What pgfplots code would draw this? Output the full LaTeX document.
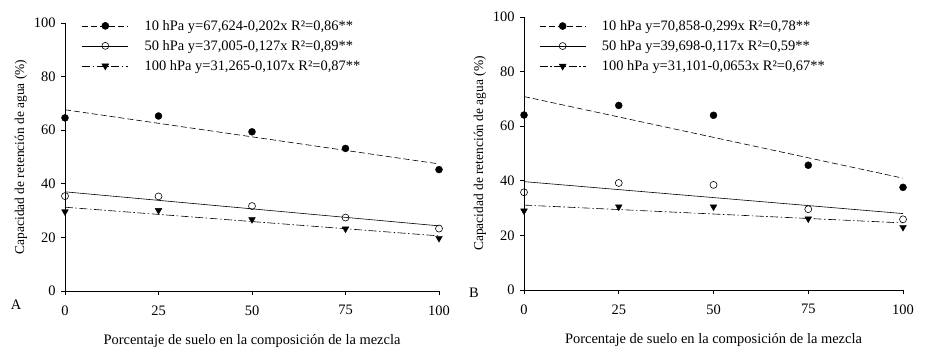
\documentclass[border=0pt]{standalone}
\usepackage{pgfplots}
\pgfplotsset{compat=1.18}
\usepackage{fontspec}
\setmainfont{Liberation Serif}
\begin{document}
\begin{tikzpicture}[x=1bp,y=1bp]
\path[use as bounding box] (0,0) rectangle (927,355);
\pgfplotsset{
  myax/.style={
    scale only axis,
    anchor=origin,
    xmin=0, xmax=100, ymin=0, ymax=100,
    axis x line*=bottom, axis y line*=left,
    axis line style={-, line width=0.8bp},
    xtick={0,25,50,75,100}, ytick={0,20,40,60,80,100},
    tick align=outside, major tick length=4bp,
    tick style={line width=0.8bp, black},
    /pgf/number format/assume math mode=true,
    ticklabel style={font=\fontsize{14.5}{16}\selectfont},
    xticklabel style={yshift=-7bp},
    yticklabel style={xshift=-2bp},
    xlabel style={font=\fontsize{14.5}{16}\selectfont, yshift=-12bp},
    ylabel style={font=\fontsize{13.5}{15}\selectfont, yshift=0bp},
    xlabel={Porcentaje de suelo en la composición de la mezcla},
    ylabel={Capacidad de retención de agua (\%)},
    clip=false,
    legend cell align=left,
    legend style={draw=none, fill=none, font=\fontsize{14.5}{16}\selectfont,
      anchor=north west, row sep=4.5bp, column sep=14bp, inner sep=0pt},
    legend image code/.code={\draw[mark repeat=2,mark phase=2,##1] plot coordinates {(0bp,0bp) (23bp,0bp) (46bp,0bp)};},
  },
  d10/.style={black, line width=0.6bp, dash pattern=on 6bp off 3bp},
  d50/.style={black, line width=0.6bp},
  d100/.style={black, line width=0.6bp, dash pattern=on 8bp off 2.5bp on 1.5bp off 2.5bp},
  m10/.style={mark=*, mark size=3.5bp, mark options={solid, fill=black}},
  m50/.style={mark=o, mark size=3.5bp, mark options={solid, fill=white, line width=0.6bp}},
  m100/.style={mark=triangle*, mark size=3.9bp, mark options={solid, rotate=180, fill=black}},
}
% Panel A
\begin{axis}[myax, at={(65bp,64bp)}, width=374bp, height=268bp,
  legend style={at={(0.045,1.019)}}]
\addlegendimage{d10, m10}
\addlegendentry{10 hPa y=67,624-0,202x R²=0,86**}
\addlegendimage{d50, m50}
\addlegendentry{50 hPa y=37,005-0,127x R²=0,89**}
\addlegendimage{d100, m100}
\addlegendentry{100 hPa y=31,265-0,107x R²=0,87**}
\addplot[d10, forget plot] coordinates {(0,67.624) (100,47.424)};
\addplot[d50, forget plot] coordinates {(0,37.005) (100,24.305)};
\addplot[d100, forget plot] coordinates {(0,31.265) (100,20.565)};
\addplot[only marks, m10, forget plot] coordinates {(0,64.6) (25,65.3) (50,59.4) (75,53.2) (100,45.3)};
\addplot[only marks, m50, forget plot] coordinates {(0,35.4) (25,35.3) (50,31.7) (75,27.4) (100,23.3)};
\addplot[only marks, m100, forget plot] coordinates {(0,29.6) (25,30.1) (50,26.7) (75,23.2) (100,19.7)};
\end{axis}
% Panel B
\begin{axis}[myax, at={(524bp,65bp)}, width=379bp, height=273bp,
  legend style={at={(0.04,0.996)}}]
\addlegendimage{d10, m10}
\addlegendentry{10 hPa y=70,858-0,299x R²=0,78**}
\addlegendimage{d50, m50}
\addlegendentry{50 hPa y=39,698-0,117x R²=0,59**}
\addlegendimage{d100, m100}
\addlegendentry{100 hPa y=31,101-0,0653x R²=0,67**}
\addplot[d10, forget plot] coordinates {(0,70.858) (100,40.958)};
\addplot[d50, forget plot] coordinates {(0,39.698) (100,27.998)};
\addplot[d100, forget plot] coordinates {(0,31.101) (100,24.571)};
\addplot[only marks, m10, forget plot] coordinates {(0,64.1) (25,67.6) (50,64.0) (75,45.7) (100,37.6)};
\addplot[only marks, m50, forget plot] coordinates {(0,35.8) (25,39.2) (50,38.5) (75,29.6) (100,25.9)};
\addplot[only marks, m100, forget plot] coordinates {(0,29.0) (25,30.5) (50,30.5) (75,26.1) (100,23.0)};
\end{axis}
\node[font=\fontsize{14.5}{16}\selectfont] at (16,50) {A};
\node[font=\fontsize{14.5}{16}\selectfont] at (474,62) {B};
\end{tikzpicture}
\end{document}
